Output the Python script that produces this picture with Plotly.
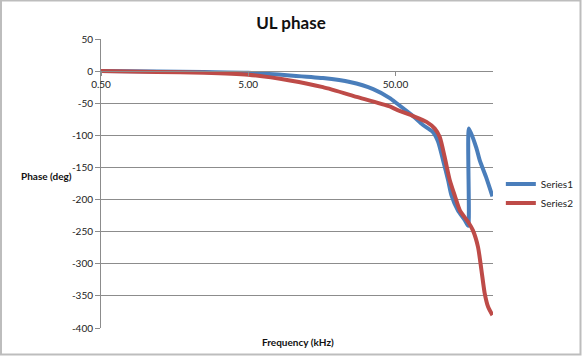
import plotly.graph_objects as go
import math

# ---- data ----
s1_freq = [0.5, 1.2, 2.5, 5.0, 9.6, 16.1, 24.5, 35.3, 45.8, 50.9, 64.3, 77.0, 90.0, 97.5,
           105.4, 114.0, 120.0, 133.0, 148.0, 156.0, 158.0, 178.0, 187.0, 205.6, 228.0]
s1_phase = [0, -0.5, -1.5, -2.5, -6.7, -10.9, -17, -28, -42, -50, -68, -84, -95, -110,
            -139, -170, -193, -217, -232, -241, -89.5, -121, -139, -164, -195]

s2_freq = [0.5, 1.2, 2.5, 5.0, 9.6, 16.1, 27.2, 45.8, 50.9, 66.0, 81.3, 92.5, 100.0, 108.0,
           117.0, 126.5, 137.0, 156.0, 168.0, 182.0, 192.0, 202.0, 213.0, 228.0]
s2_phase = [0, -1.5, -2.5, -5.6, -14.5, -25, -40, -55, -60, -70, -79, -89.5, -102.6, -133.7,
            -170, -194, -217, -235, -248, -274, -310, -346, -367, -380]

x_tickvals = [0.5, 5, 50]
x_ticktext = ["0.50", "5.00", "50.00"]
y_tickvals = [50, 0, -50, -100, -150, -200, -250, -300, -350, -400]
y_ticktext = [str(v) for v in y_tickvals]

series_names = ["Series1", "Series2"]
colors = ["#4A7EBB", "#BE4B48"]

FONT = "Lato, 'Open Sans', sans-serif"
y_min, y_max = -400, 50

fig = go.Figure()
for name, xs, ys, c in [(series_names[0], s1_freq, s1_phase, colors[0]),
                        (series_names[1], s2_freq, s2_phase, colors[1])]:
    fig.add_trace(go.Scatter(x=xs, y=ys, mode="lines", name=name,
                             line=dict(color=c, width=4, shape="spline", smoothing=0.6)))

grid = "#8C8C8C"
fig.update_layout(
    width=582, height=356,
    margin=dict(l=101, r=89, t=39, b=28, autoexpand=False),
    paper_bgcolor="white", plot_bgcolor="white",
    font=dict(family=FONT, size=10, color="#222"),
    title=dict(text="<b>UL phase</b>", x=0.5, xref="container", xanchor="center",
               y=1 - 22.7 / 356, yref="container", yanchor="middle",
               font=dict(size=17, color="#111", family=FONT)),
    showlegend=True,
    legend=dict(x=1.02, xanchor="left", y=0.465, yanchor="middle",
                font=dict(size=10, color="#222"), bgcolor="rgba(0,0,0,0)",
                itemwidth=30, tracegroupgap=0),
    xaxis=dict(type="log",
               range=[math.log10(0.5), math.log10(230)],
               tickvals=x_tickvals, ticktext=x_ticktext,
               showgrid=False, zeroline=False,
               showline=True, linecolor=grid, linewidth=1,
               ticks="outside", ticklen=4, tickcolor=grid,
               anchor="free", position=(0 - y_min) / (y_max - y_min),
               tickfont=dict(size=10, color="#222")),
    yaxis=dict(range=[y_min, y_max],
               tickvals=y_tickvals, ticktext=y_ticktext,
               showgrid=True, gridcolor=grid, gridwidth=1,
               zeroline=False,
               showline=True, linecolor=grid, linewidth=1,
               ticks="outside", ticklen=5, tickcolor=grid,
               tickfont=dict(size=10, color="#222")),
    annotations=[
        dict(text="<b>Frequency (kHz)</b>", xref="paper", yref="paper",
             x=(298 - 101) / 392, y=(328 - 342.3) / 289, xanchor="center", yanchor="middle",
             showarrow=False, font=dict(size=10, color="#111")),
        dict(text="<b>Phase (deg)</b>", xref="paper", yref="paper",
             x=(46 - 101) / 392, y=(328 - 175.5) / 289, xanchor="center", yanchor="middle",
             showarrow=False, font=dict(size=10, color="#111")),
    ],
    shapes=[
        dict(type="rect", xref="paper", yref="paper",
             x0=(1 - 101) / 392, x1=(580.5 - 101) / 392,
             y0=(328 - 354.5) / 289, y1=(328 - 0.5) / 289,
             line=dict(color="#BDBDBD", width=2), fillcolor="rgba(0,0,0,0)", layer="below"),
    ],
)

fig.write_html("out.html",
               config={"displayModeBar": False},
               post_script="document.body.style.margin='0';document.body.style.padding='0';")
